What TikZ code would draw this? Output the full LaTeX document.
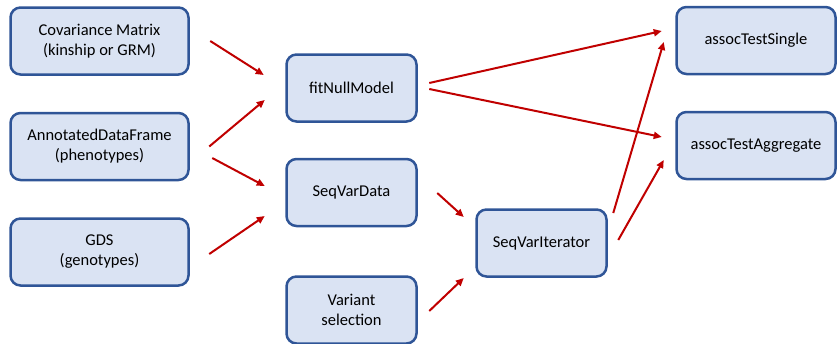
\documentclass[tikz,border=0pt]{standalone}
\usepackage{fontspec}
\setmainfont{Carlito}
\usetikzlibrary{arrows.meta}
\definecolor{boxfill}{HTML}{DAE3F3}
\definecolor{boxline}{HTML}{2F5597}
\definecolor{arrowred}{HTML}{C00000}

\begin{document}
\begin{tikzpicture}[x=1pt,y=-1pt]
        \tikzstyle{obj}=[draw=boxline,fill=boxfill,line width=2.5pt,rounded corners=10pt,align=center,inner sep=0pt,minimum height=67pt,font=\fontsize{16.5}{20}\selectfont]
        \tikzstyle{flow}=[draw=arrowred,line width=2pt,-{Triangle[length=8pt,width=7pt]}]

        \useasboundingbox (0,0) rectangle (837,343);

        \node[obj,minimum width=178pt](cov) at (99.5,41){Covariance Matrix\\(kinship or GRM)};
        \node[obj,minimum width=178pt](annot) at (99.5,146.5){AnnotatedDataFrame\\(phenotypes)};
        \node[obj,minimum width=178pt](gds) at (99.5,252){GDS\\(genotypes)};

        \node[obj,minimum width=130pt](fit) at (351.5,88){fitNullModel};
        \node[obj,minimum width=130pt](svd) at (351.5,192.5){SeqVarData};
        \node[obj,minimum width=130pt](var) at (351.5,310){Variant\\selection};

        \node[obj,minimum width=130pt](iter) at (541.5,243){SeqVarIterator};

        \node[obj,minimum width=159pt](single) at (756,40.5){assocTestSingle};
        \node[obj,minimum width=159pt](agg) at (756,145.5){assocTestAggregate};

        \draw[flow] ([shift={(20.5,0)}]cov.east) -- ([shift={(-21.5,-13)}]fit.west);
        \draw[flow] ([shift={(19.5,0)}]annot.east) -- ([shift={(-20.5,12)}]fit.west);
        \draw[flow] ([shift={(22.5,11.5)}]annot.east) -- ([shift={(-20.5,-6.5)}]svd.west);
        \draw[flow] ([shift={(19.5,2)}]gds.east) -- ([shift={(-20.5,23.5)}]svd.west);

        \draw[flow] ([shift={(11.5,-5)}]fit.east) -- ([shift={(-13.5,-9.5)}]single.west);
        \draw[flow] ([shift={(11.5,1)}]fit.east) -- ([shift={(-13.5,-8.5)}]agg.west);

        \draw[flow] ([shift={(19.5,0.5)}]svd.east) -- ([shift={(-11.5,-26)}]iter.west);
        \draw[flow] ([shift={(11.5,1)}]var.east) -- ([shift={(-11.5,35)}]iter.west);

        \draw[flow] ([shift={(5.5,-30)}]iter.east) -- ([shift={(-11.5,1.5)}]single.west);
        \draw[flow] ([shift={(10.5,-3)}]iter.east) -- ([shift={(-11.5,14.5)}]agg.west);

    \end{tikzpicture}
\end{document}
